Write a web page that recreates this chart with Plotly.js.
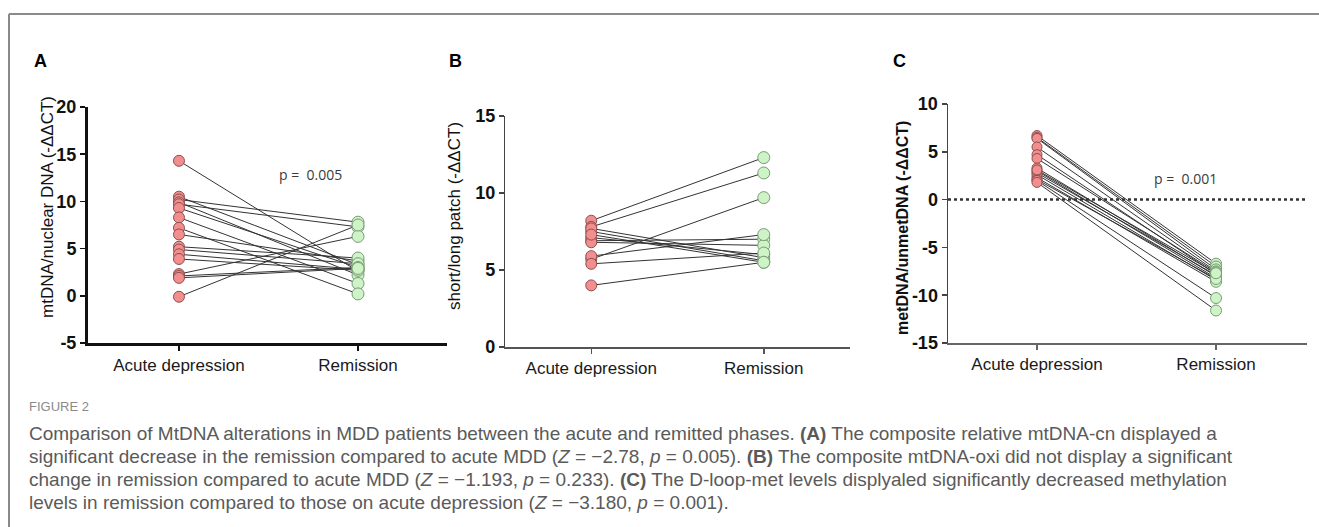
<!DOCTYPE html>
<html>
<head>
<meta charset="utf-8">
<script src="https://cdn.plot.ly/plotly-3.0.1.min.js"></script>
<style>
html,body{margin:0;padding:0;background:#fff;}
#chart{width:1319px;height:527px;}
</style>
</head>
<body>
<div id="chart"></div>
<script>
// ---- data ----
var categories = ["Acute depression", "Remission"];

// Panel A: mtDNA/nuclear DNA (-ΔΔCT)
var A_acute     = [14.3, 10.5, 10.2, 9.9, 9.7, 9.3, 8.3, 7.2, 6.5, 5.2, 4.9, 4.4, 3.9, 2.3, 2.1, 1.9, -0.1];
var A_remission = [2.6, 3.3, 7.8, 2.2, 7.3, 3.0, 1.3, 0.2, 3.7, 4.0, 3.4, 2.8, 2.7, 6.3, 3.0, 2.9, 7.5];

// Panel B: short/long patch (-ΔΔCT)
var B_acute     = [8.2, 7.8, 5.7, 7.5, 7.7, 7.1, 6.9, 6.8, 5.9, 5.4, 7.3, 4.0];
var B_remission = [12.3, 11.3, 9.7, 5.6, 5.8, 6.0, 7.0, 6.6, 7.3, 6.1, 5.5, 5.5];

// Panel C: metDNA/unmetDNA (-ΔΔCT)
var C_acute     = [6.7, 6.5, 6.4, 5.5, 4.7, 4.3, 3.3, 3.0, 2.8, 2.6, 2.3, 2.1, 2.0, 1.8, 3.1];
var C_remission = [-6.7, -7.0, -7.3, -7.5, -7.8, -7.6, -8.0, -8.2, -7.9, -8.4, -8.6, -8.3, -10.3, -11.6, -7.7];

// tick labels
var A_ticks = [-5, 0, 5, 10, 15, 20];
var A_tickText = ["-5", "0", "5", "10", "15", "20"];
var B_ticks = [0, 5, 10, 15];
var B_tickText = ["0", "5", "10", "15"];
var C_ticks = [-15, -10, -5, 0, 5, 10];
var C_tickText = ["-15", "-10", "-5", "0", "5", "10"];

var yTitles = ["mtDNA/nuclear DNA (-ΔΔCT)", "short/long patch (-ΔΔCT)", "metDNA/unmetDNA (-ΔΔCT)"];
var panelLetters = ["A", "B", "C"];
var pLabels = ["p =  0.005", "p =  0.001"];

var figLabel = "FIGURE 2";
var captionLines = [
  "Comparison of MtDNA alterations in MDD patients between the acute and remitted phases. <b>(A)</b> The composite relative mtDNA-cn displayed a",
  "significant decrease in the remission compared to acute MDD (<i>Z</i> = −2.78, <i>p</i> = 0.005). <b>(B)</b> The composite mtDNA-oxi did not display a significant",
  "change in remission compared to acute MDD (<i>Z</i> = −1.193, <i>p</i> = 0.233). <b>(C)</b> The D-loop-met levels displyaled significantly decreased methylation",
  "levels in remission compared to those on acute depression (<i>Z</i> = −3.180, <i>p</i> = 0.001)."
];

// ---- helpers ----
var W = 1319, H = 527;
function px(x){ return x / W; }
function py(y){ return 1 - y / H; }

var RED_FILL = "#F28E8E", RED_LINE = "#8c5050";
var GREEN_FILL = "#CDF3C6", GREEN_LINE = "#7a9c76";

function panelTraces(acute, remission, xa, ya, mSize){
  var lx = [], ly = [];
  for (var i = 0; i < acute.length; i++){
    lx.push(categories[0], categories[1], null);
    ly.push(acute[i], remission[i], null);
  }
  return [
    {type:"scatter", mode:"lines", x:lx, y:ly, xaxis:xa, yaxis:ya,
     line:{color:"#333333", width:1}, hoverinfo:"skip", connectgaps:false},
    {type:"scatter", mode:"markers", x:acute.map(function(){return categories[0];}), y:acute,
     xaxis:xa, yaxis:ya, marker:{size:mSize, color:RED_FILL, line:{color:RED_LINE, width:1}}},
    {type:"scatter", mode:"markers", x:remission.map(function(){return categories[1];}), y:remission,
     xaxis:xa, yaxis:ya, marker:{size:mSize+1, color:GREEN_FILL, line:{color:GREEN_LINE, width:1}}}
  ];
}

var data = [].concat(
  panelTraces(A_acute, A_remission, "x", "y", 11),
  panelTraces(B_acute, B_remission, "x2", "y2", 11),
  panelTraces(C_acute, C_remission, "x3", "y3", 10)
);

var baseFont = "Liberation Sans, Arial, sans-serif";

function xAxis(dom, anchor, rng, lw, lc){
  return {domain:dom, anchor:anchor, type:"category", range:rng,
    showline:true, linewidth:lw, linecolor:lc, ticks:"outside", ticklen:5, tickwidth:1.5, tickcolor:lc,
    showgrid:false, zeroline:false, fixedrange:true,
    tickfont:{family:baseFont, size:17, color:"#1a1a1a"}};
}
function yAxis(dom, anchor, rng, lw, lc, tv, tt){
  return {domain:dom, anchor:anchor, range:rng, tickmode:"array", tickvals:tv, ticktext:tt,
    showline:true, linewidth:lw, linecolor:lc, ticks:"outside", ticklen:5, tickwidth:1.5, tickcolor:lc,
    showgrid:false, zeroline:false, fixedrange:true,
    tickfont:{family:baseFont, size:18, color:"#111", weight:"bold"}};
}

var layout = {
  width:W, height:H, margin:{l:0, r:0, t:0, b:0},
  paper_bgcolor:"#ffffff", plot_bgcolor:"rgba(0,0,0,0)",
  showlegend:false,
  xaxis:  xAxis([px(88), px(447)], "y",  [-0.508, 1.497], 3, "#111"),
  yaxis:  yAxis([py(343), py(107)], "x",  [-5, 20], 3, "#111", A_ticks, A_tickText),
  xaxis2: xAxis([px(505), px(850)], "y2", [-0.5, 1.5], 2, "#555"),
  yaxis2: yAxis([py(347), py(116)], "x2", [0, 15], 1.2, "#444", B_ticks, B_tickText),
  xaxis3: xAxis([px(948), px(1307)], "y3", [-0.497, 1.508], 2, "#666"),
  yaxis3: yAxis([py(343), py(104)], "x3", [-15, 10], 1.5, "#444", C_ticks, C_tickText),
  shapes:[
    {type:"line", xref:"x3 domain", yref:"y3", x0:0, x1:1, y0:0, y1:0,
     line:{color:"#333", width:2.5, dash:"dot"}, layer:"below"},
    {type:"line", xref:"paper", yref:"paper", x0:px(9), x1:1, y0:py(14), y1:py(14),
     line:{color:"#8a8a8a", width:2}},
    {type:"line", xref:"paper", yref:"paper", x0:px(9), x1:px(9), y0:py(14), y1:0,
     line:{color:"#8a8a8a", width:2}}
  ],
  annotations:[]
};

var ann = layout.annotations;
var letterX = [32, 447, 891];
for (var i = 0; i < 3; i++){
  ann.push({xref:"paper", yref:"paper", x:px(letterX[i]), y:py(61), xanchor:"left", yanchor:"middle",
    text:panelLetters[i], showarrow:false, font:{family:baseFont, size:18, color:"#000", weight:"bold"}});
}
var titleX = [47, 454, 902], titleY = [207, 216, 228];
var titleW = ["normal", "normal", "bold"], titleS = [17, 17, 16];
for (var j = 0; j < 3; j++){
  ann.push({xref:"paper", yref:"paper", x:px(titleX[j]), y:py(titleY[j]), xanchor:"center", yanchor:"middle",
    textangle:-90, text:yTitles[j], showarrow:false,
    font:{family:baseFont, size:titleS[j], color:"#111", weight:titleW[j]}});
}
ann.push({xref:"paper", yref:"paper", x:px(310), y:py(175), xanchor:"center", yanchor:"middle",
  text:pLabels[0], showarrow:false, font:{family:"Open Sans, Liberation Sans, sans-serif", size:14, color:"#3a3a3a"}});
ann.push({xref:"paper", yref:"paper", x:px(1185), y:py(178), xanchor:"center", yanchor:"middle",
  text:pLabels[1], showarrow:false, font:{family:"Open Sans, Liberation Sans, sans-serif", size:14, color:"#3a3a3a"}});

ann.push({xref:"paper", yref:"paper", x:px(27), y:py(406), xanchor:"left", yanchor:"middle",
  text:figLabel, showarrow:false, font:{family:"Liberation Sans Narrow, Liberation Sans, sans-serif", size:13, color:"#8a8a8a"}});
var capY = [433, 456, 479, 502];
for (var k = 0; k < captionLines.length; k++){
  ann.push({xref:"paper", yref:"paper", x:px(27), y:py(capY[k]), xanchor:"left", yanchor:"middle",
    text:captionLines[k], showarrow:false, align:"left",
    font:{family:baseFont, size:19, color:"#5a5a5a"}});
}

Plotly.newPlot("chart", data, layout, {displayModeBar:false, staticPlot:true});
</script>
</body>
</html>
